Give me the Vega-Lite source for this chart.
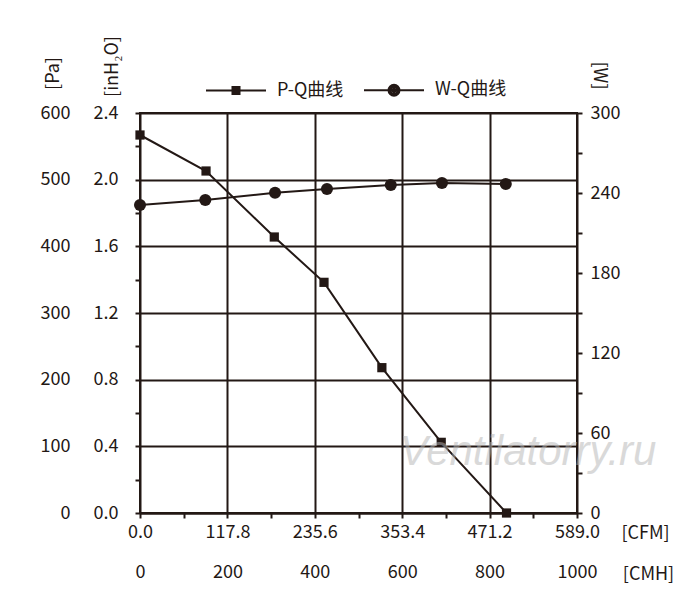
{
  "$schema": "https://vega.github.io/schema/vega-lite/v6.json",
  "width": 437, "height": 400,
  "autosize": "none",
  "padding": {"left": 140, "top": 113, "right": 123, "bottom": 93},
  "background": "white",
  "config": {
    "view": {"stroke": "#231815", "strokeWidth": 2},
    "font": "Noto Sans CJK SC",
    "axis": {
      "labelFont": "Noto Sans CJK SC", "labelFontSize": 18, "labelColor": "#231815",
      "titleFont": "Noto Sans CJK SC", "titleFontSize": 18, "titleFontWeight": "normal", "titleColor": "#231815",
      "domainColor": "#231815", "domainWidth": 2,
      "tickColor": "#231815", "tickWidth": 2,
      "gridColor": "#231815", "gridWidth": 2,
      "labelFlush": false, "labelOverlap": false
    }
  },
  "datasets": {
    "pq": [
      {"cfm": 0, "pa": 567, "series": "P-Q曲线"},
      {"cfm": 89, "pa": 513, "series": "P-Q曲线"},
      {"cfm": 181, "pa": 414, "series": "P-Q曲线"},
      {"cfm": 248, "pa": 346, "series": "P-Q曲线"},
      {"cfm": 326, "pa": 218, "series": "P-Q曲线"},
      {"cfm": 406, "pa": 106, "series": "P-Q曲线"},
      {"cfm": 494, "pa": 0, "series": "P-Q曲线"}
    ],
    "wq": [
      {"cfm": 0, "w": 231, "series": "W-Q曲线"},
      {"cfm": 88, "w": 234.8, "series": "W-Q曲线"},
      {"cfm": 182, "w": 240.2, "series": "W-Q曲线"},
      {"cfm": 252, "w": 243, "series": "W-Q曲线"},
      {"cfm": 338, "w": 246, "series": "W-Q曲线"},
      {"cfm": 407, "w": 247.5, "series": "W-Q曲线"},
      {"cfm": 493, "w": 246.8, "series": "W-Q曲线"}
    ],
    "mark": [
      {"cfm": 350, "pa": 92, "text": "Ventilatorry.ru"}
    ]
  },
  "layer": [
    {
      "data": {"name": "pq"},
      "mark": {"type": "line", "color": "#231815", "strokeWidth": 2},
      "encoding": {
        "x": {"field": "cfm", "type": "quantitative",
              "scale": {"domain": [0, 589], "nice": false, "zero": false},
              "axis": {"orient": "bottom",
                       "values": [0, 58.9, 117.8, 176.7, 235.6, 294.5, 353.4, 412.3, 471.2, 530.1, 589],
                       "labelExpr": "indexof([0, 117.8, 235.6, 353.4, 471.2, 589], datum.value) >= 0 ? format(datum.value, '.1f') : ''",
                       "grid": true,
                       "gridOpacity": {"condition": {"test": "indexof([117.8, 235.6, 353.4, 471.2], datum.value) >= 0", "value": 1}, "value": 0},
                       "tickSize": 5, "labelPadding": 5,
                       "title": "[CFM]", "titleX": 505, "titleY": 20, "titleAngle": 0,
                       "titleAlign": "center", "titleBaseline": "middle"}},
        "y": {"field": "pa", "type": "quantitative",
              "scale": {"domain": [0, 600], "nice": false},
              "axis": {"orient": "left",
                       "values": [0, 50, 100, 150, 200, 250, 300, 350, 400, 450, 500, 550, 600],
                       "labelExpr": "datum.value % 100 === 0 ? datum.label : ''",
                       "grid": true,
                       "gridOpacity": {"condition": {"test": "datum.value % 100 === 0", "value": 1}, "value": 0},
                       "tickSize": 5, "labelPadding": 65, "labelBaseline": "middle",
                       "title": "[Pa]", "titleX": -87, "titleY": -40, "titleAngle": -90,
                       "titleAlign": "center", "titleBaseline": "middle"}}
      }
    },
    {
      "data": {"name": "pq"},
      "mark": {"type": "point", "shape": "square", "filled": true, "color": "#231815", "size": 85, "opacity": 1},
      "encoding": {
        "x": {"field": "cfm", "type": "quantitative", "scale": {"domain": [0, 589], "nice": false, "zero": false}, "axis": null},
        "y": {"field": "pa", "type": "quantitative", "scale": {"domain": [0, 600], "nice": false}, "axis": null}
      }
    },
    {
      "data": {"name": "pq"},
      "mark": {"type": "point", "opacity": 0},
      "encoding": {
        "x": {"field": "cfm", "type": "quantitative", "scale": {"domain": [0, 589], "nice": false, "zero": false}, "axis": null},
        "y": {"field": "pa", "type": "quantitative",
              "scale": {"domain": [0, 600], "nice": false},
              "axis": {"orient": "left",
                       "values": [0, 100, 200, 300, 400, 500, 600],
                       "labelExpr": "format(datum.value / 250, '.1f')",
                       "ticks": false, "domain": false, "grid": false,
                       "labelPadding": 22, "labelBaseline": "middle",
                       "title": "[inH₂O]", "titleX": -28, "titleY": -47, "titleAngle": -90,
                       "titleAlign": "center", "titleBaseline": "middle"}}
      }
    },
    {
      "data": {"name": "wq"},
      "mark": {"type": "line", "color": "#231815", "strokeWidth": 2},
      "encoding": {
        "x": {"field": "cfm", "type": "quantitative",
              "scale": {"domain": [0, 589], "nice": false, "zero": false},
              "axis": {"orient": "bottom",
                       "values": [0, 117.8, 235.6, 353.4, 471.2, 589],
                       "labelExpr": "format(datum.value / 0.589, '.0f')",
                       "ticks": false, "domain": false, "grid": false,
                       "labelPadding": 50,
                       "title": "[CMH]", "titleX": 508, "titleY": 61, "titleAngle": 0,
                       "titleAlign": "center", "titleBaseline": "middle"}},
        "y": {"field": "w", "type": "quantitative",
              "scale": {"domain": [0, 300], "nice": false},
              "axis": {"orient": "right",
                       "values": [0, 30, 60, 90, 120, 150, 180, 210, 240, 270, 300],
                       "labelExpr": "datum.value % 60 === 0 ? datum.label : ''",
                       "grid": false, "tickSize": 5, "labelPadding": 8, "labelBaseline": "middle",
                       "title": "[W]", "titleX": 21, "titleY": -38, "titleAngle": 90,
                       "titleAlign": "center", "titleBaseline": "middle"}}
      }
    },
    {
      "data": {"name": "wq"},
      "mark": {"type": "point", "shape": "circle", "filled": true, "color": "#231815", "size": 145, "opacity": 1},
      "encoding": {
        "x": {"field": "cfm", "type": "quantitative", "scale": {"domain": [0, 589], "nice": false, "zero": false}, "axis": null},
        "y": {"field": "w", "type": "quantitative", "scale": {"domain": [0, 300], "nice": false}, "axis": null}
      }
    },
    {
      "data": {"name": "pq"},
      "transform": [{"filter": "datum.cfm < 0"}],
      "mark": {"type": "point", "filled": false, "color": "#231815", "strokeWidth": 2, "opacity": 1},
      "encoding": {
        "x": {"field": "cfm", "type": "quantitative", "scale": {"domain": [0, 589], "nice": false, "zero": false}, "axis": null},
        "y": {"field": "pa", "type": "quantitative", "scale": {"domain": [0, 600], "nice": false}, "axis": null},
        "shape": {"field": "series", "type": "nominal",
                  "scale": {"domain": ["P-Q曲线", "W-Q曲线"],
                            "range": ["M-1,0H1M-0.117,-0.117H0.117V0.117H-0.117ZM-0.067,-0.067H0.067V0.067H-0.067ZM-0.017,-0.017H0.017V0.017H-0.017Z",
                                      "M-1,0H1M-0.183,0A0.183,0.183,0,1,1,0.183,0A0.183,0.183,0,1,1,-0.183,0ZM-0.117,0A0.117,0.117,0,1,1,0.117,0A0.117,0.117,0,1,1,-0.117,0ZM-0.05,0A0.05,0.05,0,1,1,0.05,0A0.05,0.05,0,1,1,-0.05,0Z"]},
                  "legend": {"orient": "none", "legendX": 65, "legendY": -54, "direction": "horizontal",
                             "title": null, "symbolSize": 3600, "symbolStrokeWidth": 2,
                             "symbolFillColor": "#231815", "symbolStrokeColor": "#231815", "symbolOpacity": 1,
                             "labelFont": "Noto Sans CJK SC", "labelFontSize": 18, "labelColor": "#231815",
                             "labelOffset": 10, "columnPadding": 16,
                             "encode": {"symbols": {"update": {
                               "stroke": {"value": "#231815"}, "fill": {"value": "#231815"},
                               "strokeWidth": {"value": 2}}}}}}
      }
    },
    {
      "data": {"name": "mark"},
      "mark": {"type": "text", "align": "left", "baseline": "middle", "font": "Liberation Sans",
               "fontSize": 42, "fontStyle": "italic", "color": "#b4b4b4", "opacity": 0.5},
      "encoding": {
        "x": {"field": "cfm", "type": "quantitative", "scale": {"domain": [0, 589], "nice": false, "zero": false}, "axis": null},
        "y": {"field": "pa", "type": "quantitative", "scale": {"domain": [0, 600], "nice": false}, "axis": null},
        "text": {"field": "text"}
      }
    }
  ],
  "resolve": {
    "scale": {"x": "independent", "y": "independent"},
    "axis": {"x": "independent", "y": "independent"}
  }
}
